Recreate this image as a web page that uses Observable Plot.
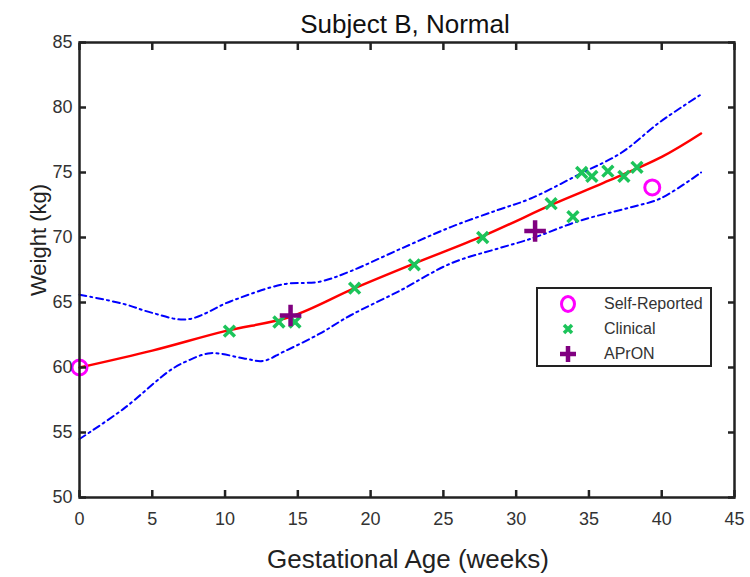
<!DOCTYPE html>
<html>
<head>
<meta charset="utf-8">
<script src="https://cdn.jsdelivr.net/npm/d3@7"></script>
<script src="https://cdn.jsdelivr.net/npm/@observablehq/plot@0.6"></script>
<style>
  html, body { margin: 0; padding: 0; background: #fff; }
  #wrap { position: relative; width: 750px; height: 577px; font-family: "Liberation Sans", Arial, sans-serif; }
  #legend { position: absolute; left: 536px; top: 287px; width: 172px; height: 76px; border: 2px solid #222; background: #fff; box-sizing: content-box; }
  .row { position: absolute; left: 0; height: 24px; display: flex; align-items: center; }
  .row svg { position: absolute; left: 20px; }
  .row span { position: absolute; left: 66px; font-size: 16px; color: #333; white-space: nowrap; line-height: 24px; }
</style>
</head>
<body>
<div id="wrap"></div>
<script>
// ---- data ----
const titleText = ["Subject B, Normal"];
const xLabelText = ["Gestational Age (weeks)"];
const yLabelText = ["Weight (kg)"];
const xTicks = [0, 5, 10, 15, 20, 25, 30, 35, 40, 45];
const yTicks = [50, 55, 60, 65, 70, 75, 80, 85];

const fitWeeks = [0, 5, 10, 14.5, 18.9, 23, 27.7, 32.6, 36, 40, 42.7];
const fitKg    = [60, 61.3, 62.8, 63.9, 66.1, 68.0, 70.1, 72.6, 74.2, 76.2, 78.0];

const upperWeeks = [0, 3, 5, 7.4, 10.4, 14, 16.5, 18.6, 22, 25.5, 28.7, 31, 34.4, 37.2, 39.9, 42.7];
const upperKg    = [65.6, 64.9, 64.2, 63.7, 65.1, 66.4, 66.6, 67.4, 69.1, 70.8, 72.1, 73.0, 74.9, 76.5, 78.9, 81.0];

const lowerWeeks = [0, 3, 6.25, 7.4, 9, 11.3, 12.6, 14, 16.5, 18.6, 22, 25.5, 28.9, 31, 34.4, 37.8, 39.9, 42.7];
const lowerKg    = [54.5, 56.8, 59.8, 60.5, 61.1, 60.7, 60.5, 61.2, 62.6, 64.0, 65.9, 68.0, 69.2, 69.9, 71.3, 72.3, 73.0, 75.0];

const selfWeeks = [0, 39.35];
const selfKg    = [60, 73.85];

const clinicalWeeks = [10.3, 13.7, 14.8, 18.9, 23.0, 27.7, 32.4, 33.9, 34.5, 35.2, 36.3, 37.4, 38.3];
const clinicalKg    = [62.8, 63.5, 63.5, 66.1, 67.9, 70.0, 72.6, 71.6, 75.0, 74.7, 75.1, 74.7, 75.4];

const apronWeeks = [14.5, 31.3];
const apronKg    = [64.0, 70.5];

const legendLabels = ["Self-Reported", "Clinical", "APrON"];

// ---- build tables ----
const zipXY = (xs, ys) => xs.map((x, i) => ({x, y: ys[i]}));
const fit = zipXY(fitWeeks, fitKg);
const upper = zipXY(upperWeeks, upperKg);
const lower = zipXY(lowerWeeks, lowerKg);
const selfPts = zipXY(selfWeeks, selfKg);
const clinPts = zipXY(clinicalWeeks, clinicalKg);
const apronPts = zipXY(apronWeeks, apronKg);

const colors = {self: "#ff00ff", clin: "#1cc45a", apron: "#800080", fit: "#ff0000", band: "#0000ff"};
const dash = "7,4,2,4";

const chart = Plot.plot({
  width: 750,
  height: 577,
  marginLeft: 79,
  marginRight: 16,
  marginTop: 42,
  marginBottom: 80,
  style: {fontFamily: "'Liberation Sans', Arial, sans-serif", background: "#fff", color: "#333"},
  x: {domain: [0, 45]},
  y: {domain: [50, 85]},
  marks: [
    Plot.line(upper, {x: "x", y: "y", stroke: colors.band, strokeWidth: 2, strokeDasharray: dash, curve: "catmull-rom"}),
    Plot.line(lower, {x: "x", y: "y", stroke: colors.band, strokeWidth: 2, strokeDasharray: dash, curve: "catmull-rom"}),
    Plot.line(fit, {x: "x", y: "y", stroke: colors.fit, strokeWidth: 2.5, curve: "catmull-rom"}),
    Plot.dot(clinPts, {x: "x", y: "y", symbol: "times", r: 5, stroke: colors.clin, strokeWidth: 3.5}),
    Plot.dot(apronPts, {x: "x", y: "y", symbol: "plus", r: 7, stroke: colors.apron, strokeWidth: 4.5}),
    Plot.dot(selfPts, {x: "x", y: "y", r: 7.5, stroke: colors.self, strokeWidth: 3, fill: "none"}),
    Plot.frame({stroke: "#222", strokeWidth: 2.5}),
    Plot.axisX(xTicks, {anchor: "bottom", tickSize: -7, tickPadding: 22, fontSize: 18, label: null, stroke: "#222", strokeWidth: 2.5}),
    Plot.axisX(xTicks, {anchor: "top", tickSize: -7, tickFormat: () => "", label: null, stroke: "#222", strokeWidth: 2.5}),
    Plot.axisY(yTicks, {anchor: "left", tickSize: -7, tickPadding: 14, fontSize: 18, label: null, stroke: "#222", strokeWidth: 2.5}),
    Plot.axisY(yTicks, {anchor: "right", tickSize: -7, tickFormat: () => "", label: null, stroke: "#222", strokeWidth: 2.5}),
    Plot.text(titleText, {frameAnchor: "top", dy: -10, dx: -2, lineAnchor: "bottom", fontSize: 26, fill: "#111"}),
    Plot.text(xLabelText, {frameAnchor: "bottom", dy: 70, dx: 1, lineAnchor: "bottom", fontSize: 26, fill: "#222"}),
    Plot.text(yLabelText, {frameAnchor: "left", dx: -41, dy: 26, rotate: -90, fontSize: 22, fill: "#222"})
  ]
});

const wrap = document.getElementById("wrap");
wrap.appendChild(chart);

// legend (HTML overlay)
const legend = document.createElement("div");
legend.id = "legend";
const symbols = [
  `<svg width="20" height="22" viewBox="-10 -11 20 22"><ellipse cx="0" cy="0" rx="6.5" ry="7.5" fill="none" stroke="${colors.self}" stroke-width="3"/></svg>`,
  `<svg width="20" height="22" viewBox="-10 -11 20 22"><path d="M-4,-4L4,4M-4,4L4,-4" stroke="${colors.clin}" stroke-width="3.5"/></svg>`,
  `<svg width="20" height="22" viewBox="-10 -11 20 22"><path d="M-8,0H8M0,-8V8" stroke="${colors.apron}" stroke-width="4.5"/></svg>`
];
legendLabels.forEach((lab, i) => {
  const row = document.createElement("div");
  row.className = "row";
  row.style.top = (3 + i * 25) + "px";
  row.innerHTML = symbols[i] + `<span>${lab}</span>`;
  legend.appendChild(row);
});
wrap.appendChild(legend);
</script>
</body>
</html>
